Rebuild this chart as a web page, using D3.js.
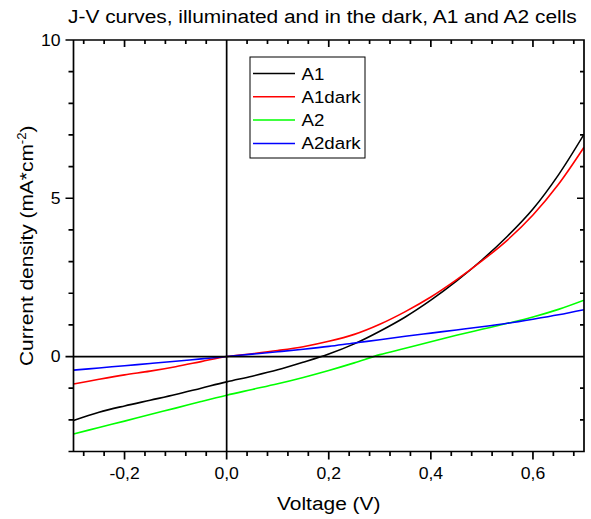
<!DOCTYPE html>
<html>
<head>
<meta charset="utf-8">
<script src="https://cdn.jsdelivr.net/npm/d3@7"></script>
<style>
  html, body { margin: 0; padding: 0; background: #fff; }
  svg { display: block; font-family: "Liberation Sans", Arial, sans-serif; }
</style>
</head>
<body>
<svg id="chart" width="591" height="519" viewBox="0 0 591 519"></svg>
<script>
// Applied bias (V)
const voltage = [-0.30, -0.25, -0.20, -0.15, -0.10, -0.05, 0.00, 0.05, 0.10, 0.15,
                 0.20, 0.25, 0.30, 0.35, 0.40, 0.45, 0.50, 0.55, 0.60, 0.65, 0.70];
// Current density (mA/cm^2) for each cell, illuminated and dark
const a1     = [-2.02, -1.76, -1.56, -1.38, -1.20, -1.00, -0.80, -0.62, -0.42, -0.18,
                 0.08,  0.40,  0.80,  1.25,  1.78,  2.38,  3.05,  3.80,  4.66,  5.74, 7.02];
const a1dark = [-0.87, -0.72, -0.58, -0.46, -0.32, -0.16,  0.00,  0.09,  0.19,  0.31,
                 0.48,  0.70,  1.02,  1.42,  1.88,  2.42,  3.02,  3.68,  4.47,  5.44, 6.61];
const a2     = [-2.45, -2.24, -2.04, -1.83, -1.63, -1.42, -1.22, -1.04, -0.86, -0.66,
                -0.44, -0.20,  0.06,  0.26,  0.47,  0.67,  0.86,  1.05,  1.25,  1.49, 1.78];
const a2dark = [-0.43, -0.36, -0.29, -0.22, -0.15, -0.075, 0.00, 0.075, 0.15, 0.23,
                 0.32,  0.43,  0.53,  0.64,  0.74,  0.84,  0.94,  1.05,  1.18,  1.32, 1.48];

const seriesNames  = ["A1", "A1dark", "A2", "A2dark"];
const seriesValues = [a1, a1dark, a2, a2dark];
const seriesColors = ["#000000", "#ff0000", "#00ff00", "#0000ff"];

const xMajorTicks = [-0.2, 0.0, 0.2, 0.4, 0.6];
const xTickLabels = ["-0,2", "0,0", "0,2", "0,4", "0,6"];
const yMajorTicks = [0, 5, 10];
const yTickLabels = ["0", "5", "10"];

const titleText = "J-V curves, illuminated and in the dark, A1 and A2 cells";
const xTitle = "Voltage (V)";

const svg = d3.select("#chart");
const plot = { left: 73.5, right: 584, top: 40, bottom: 451.5 };

const x = d3.scaleLinear().domain([-0.3, 0.7]).range([plot.left, plot.right]);
const y = d3.scaleLinear().domain([-3, 10]).range([plot.bottom, plot.top]);

const xMinor = [-0.28, -0.24, -0.16, -0.12, -0.08, -0.04, 0.04, 0.08, 0.12, 0.16,
                0.24, 0.28, 0.32, 0.36, 0.44, 0.48, 0.52, 0.56, 0.64, 0.68];
const yMinor = [-3, -2, -1, 1, 2, 3, 4, 6, 7, 8, 9];

// Clip region for the curves
svg.append("defs").append("clipPath").attr("id", "plotClip")
  .append("rect")
  .attr("x", plot.left).attr("y", plot.top)
  .attr("width", plot.right - plot.left).attr("height", plot.bottom - plot.top);

// Curves
const line = d3.line()
  .x((d, i) => x(voltage[i]))
  .y(d => y(d))
  .curve(d3.curveCatmullRom.alpha(0.5));

const curves = svg.append("g").attr("clip-path", "url(#plotClip)");
seriesValues.forEach((vals, k) => {
  curves.append("path")
    .attr("d", line(vals))
    .attr("fill", "none")
    .attr("stroke", seriesColors[k])
    .attr("stroke-width", 1.6);
});

// Frame, zero lines and all tick marks in one stroked path.
// Bottom/left ticks point outward, top/right ticks point inward.
const frame = d3.path();
frame.rect(plot.left, plot.top, plot.right - plot.left, plot.bottom - plot.top);
frame.moveTo(plot.left, y(0)); frame.lineTo(plot.right, y(0));
frame.moveTo(x(0), plot.top); frame.lineTo(x(0), plot.bottom);
function xTickMarks(vals, len, y0) {
  vals.forEach(v => { frame.moveTo(x(v), y0); frame.lineTo(x(v), y0 + len); });
}
function yTickMarks(vals, len, x0) {
  vals.forEach(v => { frame.moveTo(x0, y(v)); frame.lineTo(x0 - len, y(v)); });
}
xTickMarks(xMajorTicks, 8, plot.bottom);
xTickMarks(xMinor, 4.5, plot.bottom);
xTickMarks(xMajorTicks, 7, plot.top);
xTickMarks(xMinor, 4, plot.top);
yTickMarks(yMajorTicks, 8, plot.left);
yTickMarks(yMinor, 5, plot.left);
yTickMarks(yMajorTicks, 7, plot.right);
yTickMarks(yMinor, 4, plot.right);

svg.append("path")
  .attr("d", frame.toString())
  .attr("fill", "none")
  .attr("stroke", "#000")
  .attr("stroke-width", 1.7);

const labelScale = 1.1;

// Tick labels
svg.append("g").selectAll("text").data(xMajorTicks).join("text")
  .attr("transform", d => `translate(${x(d)},${plot.bottom + 27}) scale(${labelScale},1)`)
  .attr("text-anchor", "middle")
  .attr("font-size", 16).attr("fill", "#000")
  .text((d, i) => xTickLabels[i]);

svg.append("g").selectAll("text").data(yMajorTicks).join("text")
  .attr("transform", d => `translate(${plot.left - 13},${y(d) + 5.6}) scale(${labelScale},1)`)
  .attr("text-anchor", "end")
  .attr("font-size", 16).attr("fill", "#000")
  .text((d, i) => yTickLabels[i]);

// Title
svg.append("text")
  .attr("transform", `translate(68,23) scale(${labelScale},1)`)
  .attr("font-size", 19).attr("fill", "#000")
  .text(titleText);

// Axis titles
svg.append("text")
  .attr("transform", `translate(${(plot.left + plot.right) / 2},510) scale(${labelScale},1)`)
  .attr("text-anchor", "middle")
  .attr("font-size", 19).attr("fill", "#000")
  .text(xTitle);

const yTitle = svg.append("text")
  .attr("transform", `translate(33,${(plot.top + plot.bottom) / 2}) rotate(-90) scale(${labelScale},1)`)
  .attr("text-anchor", "middle")
  .attr("font-size", 19).attr("fill", "#000");
yTitle.append("tspan").text("Current density (mA*cm");
yTitle.append("tspan").attr("font-size", 12).attr("dy", -7).text("-2");
yTitle.append("tspan").attr("dy", 7).text(")");

// Legend
const legend = svg.append("g").attr("transform", "translate(250,57)");
legend.append("rect")
  .attr("x", 0).attr("y", 0).attr("width", 115).attr("height", 101)
  .attr("fill", "#fff").attr("stroke", "#000").attr("stroke-width", 1);
seriesNames.forEach((name, k) => {
  const cy = 16.5 + k * 23.3;
  legend.append("line")
    .attr("x1", 3).attr("x2", 45).attr("y1", cy).attr("y2", cy)
    .attr("stroke", seriesColors[k]).attr("stroke-width", 1.5);
  legend.append("text")
    .attr("transform", `translate(51.5,${cy + 6}) scale(${labelScale},1)`)
    .attr("font-size", 17).attr("fill", "#000")
    .text(name);
});
</script>
</body>
</html>
